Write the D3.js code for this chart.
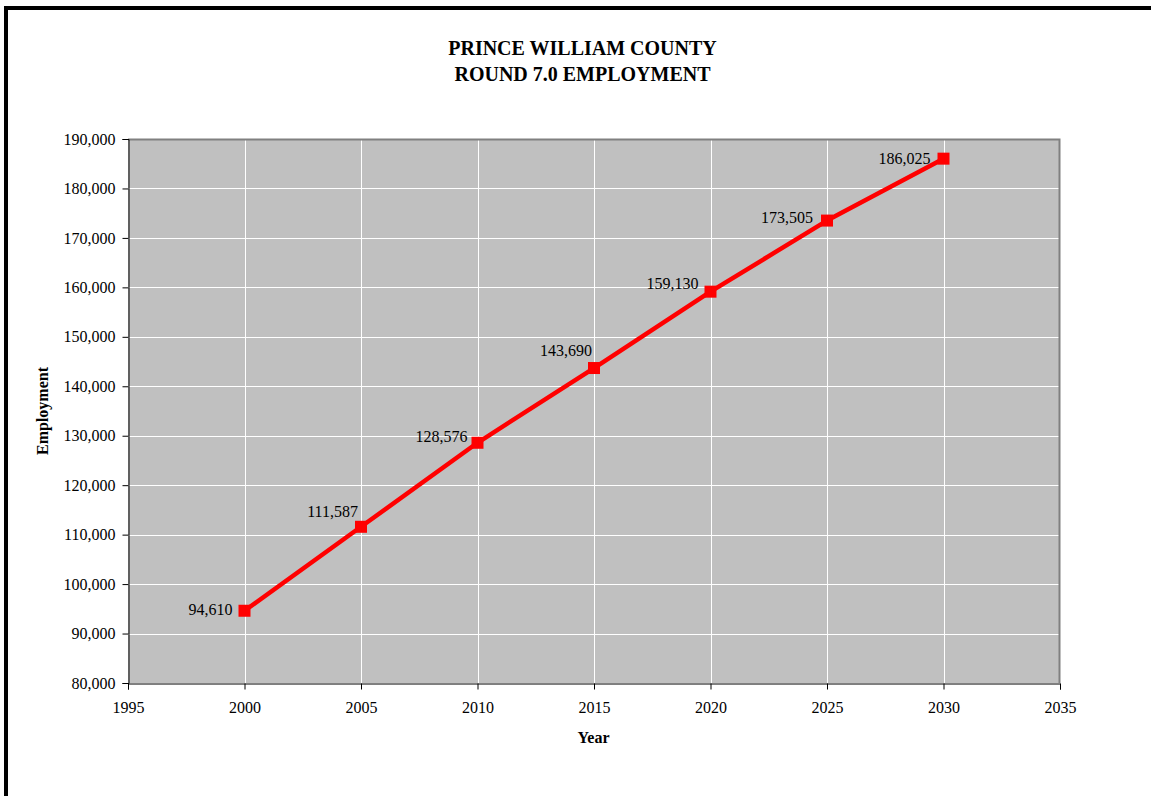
<!DOCTYPE html>
<html>
<head>
<meta charset="utf-8">
<script src="https://cdn.jsdelivr.net/npm/d3@7"></script>
<style>
  html, body { margin: 0; padding: 0; background: #fff; }
  svg { display: block; }
  text { font-family: "Liberation Serif", "Times New Roman", serif; fill: #000; }
</style>
</head>
<body>
<svg id="chart" width="1151" height="796"></svg>
<script>
// Employment forecast, Prince William County (Round 7.0)
const years = [2000, 2005, 2010, 2015, 2020, 2025, 2030];
const employment = [94610, 111587, 128576, 143690, 159130, 173505, 186025];
const xTicks = [1995, 2000, 2005, 2010, 2015, 2020, 2025, 2030, 2035];
const yTicks = [80000, 90000, 100000, 110000, 120000, 130000, 140000, 150000, 160000, 170000, 180000, 190000];
const titleLines = ["PRINCE WILLIAM COUNTY", "ROUND 7.0 EMPLOYMENT"];

// label placement relative to each marker: [dx of right edge, dy of baseline]
const labelOffsets = [[-12, 4], [-3, -10], [-10, -1], [-2, -12], [-12, -3], [-14, 2], [-13, 5]];

const svg = d3.select("#chart");
const plot = { left: 128, top: 139, right: 1060, bottom: 683 };

const x = d3.scaleLinear().domain([1995, 2035]).range([plot.left, plot.right]);
const y = d3.scaleLinear().domain([80000, 190000]).range([plot.bottom, plot.top]);
const fmt = d3.format(",");

// page frame (top and left edges)
svg.append("rect").attr("x", 4).attr("y", 6).attr("width", 1151 - 4).attr("height", 4).attr("fill", "#000");
svg.append("rect").attr("x", 4).attr("y", 6).attr("width", 4).attr("height", 796 - 6).attr("fill", "#000");

// title
svg.append("g").selectAll("text").data(titleLines).join("text")
  .attr("x", 582.5).attr("y", (d, i) => 55 + i * 26)
  .attr("text-anchor", "middle").attr("font-weight", "bold").attr("font-size", 20)
  .text(d => d);

// plot background
svg.append("rect")
  .attr("x", plot.left).attr("y", plot.top)
  .attr("width", plot.right - plot.left).attr("height", plot.bottom - plot.top)
  .attr("fill", "#c0c0c0");

// gridlines
svg.append("g").selectAll("line").data(yTicks.slice(1)).join("line")
  .attr("x1", plot.left).attr("x2", plot.right)
  .attr("y1", d => Math.round(y(d)) + 0.5).attr("y2", d => Math.round(y(d)) + 0.5)
  .attr("stroke", "#fff").attr("stroke-width", 1);
svg.append("g").selectAll("line").data(xTicks.slice(1, -1)).join("line")
  .attr("y1", plot.top).attr("y2", plot.bottom)
  .attr("x1", d => Math.round(x(d)) + 0.5).attr("x2", d => Math.round(x(d)) + 0.5)
  .attr("stroke", "#fff").attr("stroke-width", 1);

// plot area border (top, right)
svg.append("path")
  .attr("d", `M${plot.left},${plot.top + 0.5}H${plot.right - 0.5}V${plot.bottom}`)
  .attr("fill", "none").attr("stroke", "#808080").attr("stroke-width", 2);

// axes
const yAxis = d3.axisLeft(y).tickValues(yTicks).tickFormat(fmt).tickSize(6).tickPadding(7);
const gy = svg.append("g").attr("transform", `translate(${plot.left + 0.5},0)`).call(yAxis);
const xAxis = d3.axisBottom(x).tickValues(xTicks).tickFormat(d3.format("d")).tickSize(6).tickPadding(12);
const gx = svg.append("g").attr("transform", `translate(0,${plot.bottom + 0.5})`).call(xAxis);
[gx, gy].forEach(g => {
  g.select(".domain").attr("stroke", "#000");
  g.selectAll(".tick line").attr("stroke", "#000");
  g.selectAll(".tick text").attr("font-size", 16)
    .attr("font-family", '"Liberation Serif", "Times New Roman", serif').attr("fill", "#000");
});
gy.selectAll(".tick text").attr("dy", "0.32em");

// axis titles
svg.append("text").attr("x", 593.5).attr("y", 743)
  .attr("text-anchor", "middle").attr("font-weight", "bold").attr("font-size", 16).text("Year");
svg.append("text").attr("transform", `translate(48,411) rotate(-90)`)
  .attr("text-anchor", "middle").attr("font-weight", "bold").attr("font-size", 16).text("Employment");

// series line
const pts = years.map((yr, i) => ({ yr, v: employment[i], off: labelOffsets[i] }));
svg.append("path").datum(pts)
  .attr("d", d3.line().x(d => x(d.yr)).y(d => y(d.v)))
  .attr("fill", "none").attr("stroke", "#ff0000").attr("stroke-width", 4.5)
  .attr("stroke-linejoin", "round");

// square markers
const ms = 12;
svg.append("g").selectAll("rect").data(pts).join("rect")
  .attr("x", d => x(d.yr) - ms / 2).attr("y", d => y(d.v) - ms / 2)
  .attr("width", ms).attr("height", ms).attr("fill", "#ff0000");

// value labels
svg.append("g").selectAll("text").data(pts).join("text")
  .attr("x", d => x(d.yr) + d.off[0]).attr("y", d => y(d.v) + d.off[1])
  .attr("text-anchor", "end").attr("font-size", 16)
  .text(d => fmt(d.v));
</script>
</body>
</html>
